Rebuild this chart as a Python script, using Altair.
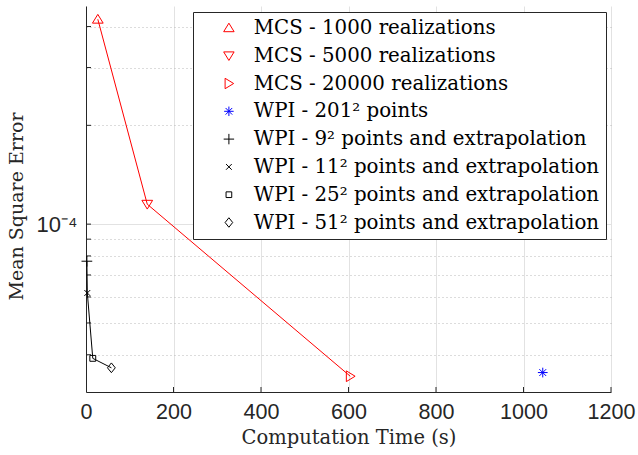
import altair as alt
import pandas as pd

# ---- data ----
series_names = [
    "MCS - 1000 realizations",
    "MCS - 5000 realizations",
    "MCS - 20000 realizations",
    "WPI - 201² points",
    "WPI - 9² points and extrapolation",
    "WPI - 11² points and extrapolation",
    "WPI - 25² points and extrapolation",
    "WPI - 51² points and extrapolation",
]
comp_time = [27, 140, 604, 1044, 2, 3, 15.5, 58]
mse_vals = [4.21e-4, 1.15e-4, 3.44e-5, 3.53e-5, 7.71e-5, 6.17e-5, 3.90e-5, 3.65e-5]
groups = ["MCS", "MCS", "MCS", "WPI201", "WPI", "WPI", "WPI", "WPI"]

series_colors = ["#ff0000", "#ff0000", "#ff0000", "#0000ff",
                 "#000000", "#000000", "#000000", "#000000"]
series_shapes = [
    "M0,-1L1.1,0.8L-1.1,0.8Z",
    "M0,1L1.1,-0.8L-1.1,-0.8Z",
    "M1,0L-0.8,1.1L-0.8,-1.1Z",
    "M-1,0L1,0M0,-1L0,1M-0.7,-0.7L0.7,0.7M-0.7,0.7L0.7,-0.7",
    "M-1.1,0L1.1,0M0,-1.1L0,1.1",
    "M-0.6,-0.6L0.6,0.6M-0.6,0.6L0.6,-0.6",
    "M-0.6,-0.6L0.6,-0.6L0.6,0.6L-0.6,0.6Z",
    "M0,-1L0.8,0L0,1L-0.8,0Z",
]

x_ticks = [0, 200, 400, 600, 800, 1000, 1200]
y_ticks = [4e-5, 5e-5, 6e-5, 7e-5, 8e-5, 9e-5, 1e-4, 2e-4, 3e-4, 4e-4]
x_domain = [0, 1200]
y_domain = [3.08e-5, 4.62e-4]

df = pd.DataFrame({"series": series_names, "time": comp_time,
                   "mse": mse_vals, "group": groups})
xt_df = pd.DataFrame({"time": x_ticks[1:]})
yt_df = pd.DataFrame({"mse": y_ticks})

W, H = 525, 386
AXIS_COLOR = "#262626"
SERIF = "DejaVu Serif"
SANS = "Liberation Sans"

x_axis = alt.Axis(
    values=x_ticks, grid=True, gridColor="#e2e2e2", gridWidth=1,
    tickSize=0, domainColor=AXIS_COLOR, domainWidth=1,
    labelFont=SANS, labelFontSize=21.5, labelColor=AXIS_COLOR, labelPadding=9,
    labelFlush=False, labelExpr="format(datum.value, 'd')",
    title="Computation Time (s)", titleFont=SERIF, titleFontSize=19.5,
    titleFontWeight="normal", titleColor=AXIS_COLOR, titleY=45,
    titleBaseline="middle",
)
y_axis = alt.Axis(
    values=y_ticks, grid=True,
    gridColor={"condition": {"test": "abs(datum.value - 0.0001) < 1e-9", "value": "#e2e2e2"},
               "value": "#b8b8b8"},
    gridDash={"condition": {"test": "abs(datum.value - 0.0001) < 1e-9", "value": []},
              "value": [1, 3]},
    tickSize=0, domainColor=AXIS_COLOR, domainWidth=1,
    labelExpr="abs(datum.value - 0.0001) < 1e-9 ? '10⁻⁴' : ''",
    labelFont=SANS, labelFontSize=22, labelColor=AXIS_COLOR, labelPadding=9,
    title="Mean Square Error", titleFont=SERIF, titleFontSize=19,
    titleFontWeight="normal", titleColor=AXIS_COLOR, titleX=-70, titleY=200,
    titleAngle=-90, titleBaseline="middle", titleAlign="center",
)

xenc = alt.X("time:Q", scale=alt.Scale(domain=x_domain, nice=False, zero=False), axis=x_axis)
yenc = alt.Y("mse:Q", scale=alt.Scale(type="log", domain=y_domain, nice=False), axis=y_axis)

legend = alt.Legend(
    title=None, orient="none", legendX=107, legendY=6,
    strokeColor=AXIS_COLOR, fillColor="white", padding=6,
    labelFont=SERIF, labelFontSize=19.8, labelColor="black",
    symbolSize=90, symbolStrokeWidth=1, symbolOffset=20, labelOffset=15,
    rowPadding=6.8, labelLimit=500,
)

mcs_line = alt.Chart(df).transform_filter("datum.group == 'MCS'").mark_line(
    color="#ff0000", strokeWidth=1).encode(x=xenc, y=yenc)
wpi_line = alt.Chart(df).transform_filter("datum.group == 'WPI'").mark_line(
    color="#000000", strokeWidth=1).encode(x=xenc, y=yenc)

points = alt.Chart(df).mark_point(filled=False, strokeWidth=1, size=95, opacity=1).encode(
    x=xenc, y=yenc,
    shape=alt.Shape("series:N", sort=series_names,
                    scale=alt.Scale(domain=series_names, range=series_shapes), legend=legend),
    stroke=alt.Stroke("series:N", sort=series_names,
                      scale=alt.Scale(domain=series_names, range=series_colors), legend=legend),
)

x_ticks_in = alt.Chart(xt_df).mark_rule(color=AXIS_COLOR, strokeWidth=1).encode(
    x=xenc, y=alt.value(H), y2=alt.value(H - 5))
y_ticks_in = alt.Chart(yt_df).mark_rule(color=AXIS_COLOR, strokeWidth=1).encode(
    y=yenc, x=alt.value(0), x2=alt.value(5))

chart = alt.layer(x_ticks_in, y_ticks_in, mcs_line, wpi_line, points).properties(
    width=W, height=H,
    autosize=alt.AutoSizeParams(type="none"),
    padding={"left": 86, "top": 6, "right": 638 - 86 - W, "bottom": 455 - 6 - H},
    background="white",
).configure_view(stroke=None)

chart.save("out.html", embed_options={"renderer": "svg", "actions": False})
